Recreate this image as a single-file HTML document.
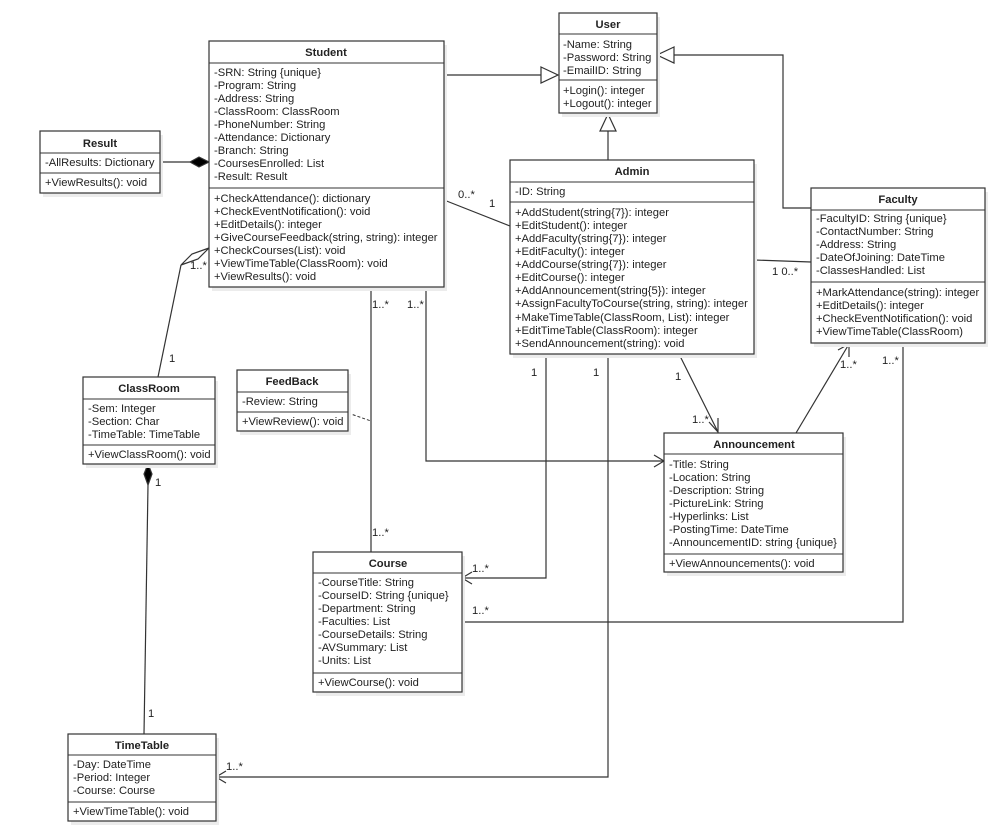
<!DOCTYPE html>
<html><head><meta charset="utf-8"><style>
html,body{margin:0;padding:0;background:#fff}
svg{display:block}
text{font-family:"Liberation Sans",Arial,sans-serif;font-size:11.2px;fill:#222}
.h{font-weight:bold;text-anchor:middle}
.b{fill:#fff;stroke:#333;stroke-width:1.2}
.sh{fill:#ececec}
.d{stroke:#333;stroke-width:1;fill:none}
.l{stroke:#333;stroke-width:1.2;fill:none}
.lab{fill:#333}
</style></head><body>
<svg width="995" height="831" viewBox="0 0 995 831">
<!-- connectors -->
<g class="l">
<polyline points="444,75 541,75"/>
<polygon points="541,67 558,75 541,83" fill="#fff"/>
<polyline points="608,160 608,131"/>
<polygon points="600,131 608,114 616,131" fill="#fff"/>
<polyline points="811,208 783,208 783,55 674,55"/>
<polygon points="674,47 657,55 674,63" fill="#fff"/>
<line x1="160" y1="162" x2="190" y2="162"/>
<polygon points="190,162 199,157 209,162 199,167" fill="#000"/>
<polyline points="158,377 181,265"/>
<polygon points="181,265 192,254 209,248 198,259" fill="#fff"/>
<line x1="444" y1="200" x2="510" y2="226"/>
<line x1="754" y1="260" x2="811" y2="262"/>
<line x1="679" y1="354" x2="718" y2="432"/>
<polyline points="709,422 718,432 718,418"/>
<line x1="796" y1="433" x2="849" y2="344"/>
<polyline points="838,350 849,344 849,357"/>
<polyline points="903,343 903,622 462,622"/>
<polyline points="546,354 546,578 462,578"/>
<polyline points="472,572 462,578 472,584"/>
<polyline points="608,354 608,777 216,777"/>
<polyline points="226,771 216,777 226,783"/>
<line x1="371" y1="287" x2="371" y2="552"/>
<polyline points="426,287 426,461 664,461"/>
<polyline points="654,455 664,461 654,467"/>
<line x1="148" y1="485" x2="144" y2="734"/>
<polygon points="148,464 152,474 148,485 144,474" fill="#000"/>
</g>
<line x1="348" y1="413" x2="371" y2="421" stroke="#333" stroke-dasharray="3,2"/>
<!-- labels -->
<g class="lab">
<text x="458" y="198">0..*</text><text x="489" y="207">1</text>
<text x="772" y="275">1 0..*</text>
<text x="675" y="380">1</text><text x="692" y="423">1..*</text>
<text x="840" y="368">1..*</text><text x="882" y="364">1..*</text>
<text x="472" y="614">1..*</text><text x="472" y="572">1..*</text>
<text x="531" y="376">1</text><text x="593" y="376">1</text>
<text x="226" y="770">1..*</text>
<text x="372" y="308">1..*</text><text x="407" y="308">1..*</text>
<text x="372" y="536">1..*</text>
<text x="190" y="269">1..*</text><text x="169" y="362">1</text>
<text x="155" y="486">1</text><text x="148" y="717">1</text>
</g>
<!-- User -->
<rect class="sh" x="562" y="17" width="98" height="100"/>
<rect class="b" x="559" y="13" width="98" height="100"/>
<line class="d" x1="559" y1="34" x2="657" y2="34"/><line class="d" x1="559" y1="80" x2="657" y2="80"/>
<text class="h" x="608" y="28">User</text>
<text x="563" y="48">-Name: String</text><text x="563" y="61">-Password: String</text><text x="563" y="74">-EmailID: String</text>
<text x="563" y="94">+Login(): integer</text><text x="563" y="107">+Logout(): integer</text>
<!-- Student -->
<rect class="sh" x="212" y="45" width="235" height="246"/>
<rect class="b" x="209" y="41" width="235" height="246"/>
<line class="d" x1="209" y1="63" x2="444" y2="63"/><line class="d" x1="209" y1="188" x2="444" y2="188"/>
<text class="h" x="326" y="56">Student</text>
<text x="214" y="76">-SRN: String {unique}</text>
<text x="214" y="89">-Program: String</text>
<text x="214" y="102">-Address: String</text>
<text x="214" y="115">-ClassRoom: ClassRoom</text>
<text x="214" y="128">-PhoneNumber: String</text>
<text x="214" y="141">-Attendance: Dictionary</text>
<text x="214" y="154">-Branch: String</text>
<text x="214" y="167">-CoursesEnrolled: List</text>
<text x="214" y="180">-Result: Result</text>
<text x="214" y="202">+CheckAttendance(): dictionary</text>
<text x="214" y="215">+CheckEventNotification(): void</text>
<text x="214" y="228">+EditDetails(): integer</text>
<text x="214" y="241">+GiveCourseFeedback(string, string): integer</text>
<text x="214" y="254">+CheckCourses(List): void</text>
<text x="214" y="267">+ViewTimeTable(ClassRoom): void</text>
<text x="214" y="280">+ViewResults(): void</text>
<!-- Result -->
<rect class="sh" x="43" y="135" width="120" height="62"/>
<rect class="b" x="40" y="131" width="120" height="62"/>
<line class="d" x1="40" y1="153" x2="160" y2="153"/><line class="d" x1="40" y1="173" x2="160" y2="173"/>
<text class="h" x="100" y="147">Result</text>
<text x="45" y="166">-AllResults: Dictionary</text>
<text x="45" y="186">+ViewResults(): void</text>
<!-- Admin -->
<rect class="sh" x="513" y="164" width="244" height="194"/>
<rect class="b" x="510" y="160" width="244" height="194"/>
<line class="d" x1="510" y1="182" x2="754" y2="182"/><line class="d" x1="510" y1="202" x2="754" y2="202"/>
<text class="h" x="632" y="175">Admin</text>
<text x="515" y="195">-ID: String</text>
<text x="515" y="216">+AddStudent(string{7}): integer</text>
<text x="515" y="229">+EditStudent(): integer</text>
<text x="515" y="242">+AddFaculty(string{7}): integer</text>
<text x="515" y="255">+EditFaculty(): integer</text>
<text x="515" y="268">+AddCourse(string{7}): integer</text>
<text x="515" y="281">+EditCourse(): integer</text>
<text x="515" y="294">+AddAnnouncement(string{5}): integer</text>
<text x="515" y="307">+AssignFacultyToCourse(string, string): integer</text>
<text x="515" y="321">+MakeTimeTable(ClassRoom, List): integer</text>
<text x="515" y="334">+EditTimeTable(ClassRoom): integer</text>
<text x="515" y="347">+SendAnnouncement(string): void</text>
<!-- Faculty -->
<rect class="sh" x="814" y="192" width="174" height="155"/>
<rect class="b" x="811" y="188" width="174" height="155"/>
<line class="d" x1="811" y1="210" x2="985" y2="210"/><line class="d" x1="811" y1="282" x2="985" y2="282"/>
<text class="h" x="898" y="203">Faculty</text>
<text x="816" y="222">-FacultyID: String {unique}</text>
<text x="816" y="235">-ContactNumber: String</text>
<text x="816" y="248">-Address: String</text>
<text x="816" y="261">-DateOfJoining: DateTime</text>
<text x="816" y="274">-ClassesHandled: List</text>
<text x="816" y="296">+MarkAttendance(string): integer</text>
<text x="816" y="309">+EditDetails(): integer</text>
<text x="816" y="322">+CheckEventNotification(): void</text>
<text x="816" y="335">+ViewTimeTable(ClassRoom)</text>
<!-- Announcement -->
<rect class="sh" x="667" y="437" width="179" height="139"/>
<rect class="b" x="664" y="433" width="179" height="139"/>
<line class="d" x1="664" y1="454" x2="843" y2="454"/><line class="d" x1="664" y1="554" x2="843" y2="554"/>
<text class="h" x="754" y="448">Announcement</text>
<text x="669" y="468">-Title: String</text>
<text x="669" y="481">-Location: String</text>
<text x="669" y="494">-Description: String</text>
<text x="669" y="507">-PictureLink: String</text>
<text x="669" y="520">-Hyperlinks: List</text>
<text x="669" y="533">-PostingTime: DateTime</text>
<text x="669" y="546">-AnnouncementID: string {unique}</text>
<text x="669" y="567">+ViewAnnouncements(): void</text>
<!-- ClassRoom -->
<rect class="sh" x="86" y="381" width="132" height="87"/>
<rect class="b" x="83" y="377" width="132" height="87"/>
<line class="d" x1="83" y1="399" x2="215" y2="399"/><line class="d" x1="83" y1="445" x2="215" y2="445"/>
<text class="h" x="149" y="392">ClassRoom</text>
<text x="88" y="412">-Sem: Integer</text>
<text x="88" y="425">-Section: Char</text>
<text x="88" y="438">-TimeTable: TimeTable</text>
<text x="88" y="458">+ViewClassRoom(): void</text>
<!-- FeedBack -->
<rect class="sh" x="240" y="374" width="111" height="61"/>
<rect class="b" x="237" y="370" width="111" height="61"/>
<line class="d" x1="237" y1="392" x2="348" y2="392"/><line class="d" x1="237" y1="412" x2="348" y2="412"/>
<text class="h" x="292" y="385">FeedBack</text>
<text x="242" y="405">-Review: String</text>
<text x="242" y="425">+ViewReview(): void</text>
<!-- Course -->
<rect class="sh" x="316" y="556" width="149" height="140"/>
<rect class="b" x="313" y="552" width="149" height="140"/>
<line class="d" x1="313" y1="573" x2="462" y2="573"/><line class="d" x1="313" y1="673" x2="462" y2="673"/>
<text class="h" x="388" y="567">Course</text>
<text x="318" y="586">-CourseTitle: String</text>
<text x="318" y="599">-CourseID: String {unique}</text>
<text x="318" y="612">-Department: String</text>
<text x="318" y="625">-Faculties: List</text>
<text x="318" y="638">-CourseDetails: String</text>
<text x="318" y="651">-AVSummary: List</text>
<text x="318" y="664">-Units: List</text>
<text x="318" y="686">+ViewCourse(): void</text>
<!-- TimeTable -->
<rect class="sh" x="71" y="738" width="148" height="87"/>
<rect class="b" x="68" y="734" width="148" height="87"/>
<line class="d" x1="68" y1="755" x2="216" y2="755"/><line class="d" x1="68" y1="802" x2="216" y2="802"/>
<text class="h" x="142" y="749">TimeTable</text>
<text x="73" y="768">-Day: DateTime</text>
<text x="73" y="781">-Period: Integer</text>
<text x="73" y="794">-Course: Course</text>
<text x="73" y="815">+ViewTimeTable(): void</text>
</svg>
</body></html>
